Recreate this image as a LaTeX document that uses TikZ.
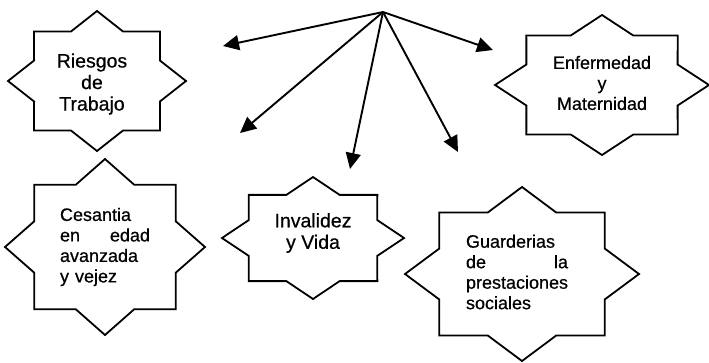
\documentclass[tikz,border=0pt]{standalone}
\usepackage{fontspec}
\setmainfont{Liberation Sans}[FakeBold=0.6]
\usetikzlibrary{arrows.meta,calc}
\tikzset{
  starline/.style={line width=1.8pt, line join=miter},
  lbl/.style={inner sep=0pt, font=\fontsize{18}{20.5}\selectfont},
  biglbl/.style={inner sep=0pt, font=\fontsize{19.5}{21.5}\selectfont},
  link/.style={line width=1.9pt, -{Triangle[length=16pt,width=15pt]}},
}
\newcommand\eightstar[3]{%
  \draw[starline] ($(#1)+(#2,0)$)
  \foreach \k in {1,...,7}{
    -- ($(#1)+({0.765*#2*cos(\k*45-22.5)},{0.765*#3*sin(\k*45-22.5)})$)
    -- ($(#1)+({#2*cos(\k*45)},{#3*sin(\k*45)})$) }
  -- ($(#1)+({0.765*#2*cos(337.5)},{0.765*#3*sin(337.5)})$) -- cycle;}
\begin{document}
\begin{tikzpicture}[x=1pt,y=-1pt]
\useasboundingbox (0,0) rectangle (709,362);
% star centres
\coordinate (s1) at (97,81);
\coordinate (s2) at (602,85);
\coordinate (s3) at (105,247);
\coordinate (s4) at (313,238);
\coordinate (s5) at (522,274);
\eightstar{s1}{89}{70}
\eightstar{s2}{107}{70}
\eightstar{s3}{100}{88}
\eightstar{s4}{91}{61}
\eightstar{s5}{117}{87}
% labels
\node[biglbl, align=center] (riesgos) at (92,84) {Riesgos\\de\\Trabajo};
\node[lbl, align=center] (enfermedad) at (602,83) {Enfermedad\\y\\Maternidad};
\node[lbl, text width=90pt, align=left] (cesantia) at (105,247) {Cesantia\\en\hfill edad\\avanzada\\y vejez};
\node[biglbl, align=center] (invalidez) at (313,233) {Invalidez\\y Vida};
\node[lbl, text width=102pt, align=left] (guarderias) at (517,272) {Guarderias\\de\hfill la\\prestaciones\\sociales};
% connectors
\coordinate (hub) at (383,12);
\coordinate (e1) at (223,46);
\coordinate (e2) at (240,133);
\coordinate (e3) at (350,169);
\coordinate (e4) at (458,152);
\coordinate (e5) at (493,50);
\draw[link] (hub) -- (e1);
\draw[link] (hub) -- (e2);
\draw[link] (hub) -- (e3);
\draw[link] (hub) -- (e4);
\draw[link] (hub) -- (e5);
\end{tikzpicture}
\end{document}
